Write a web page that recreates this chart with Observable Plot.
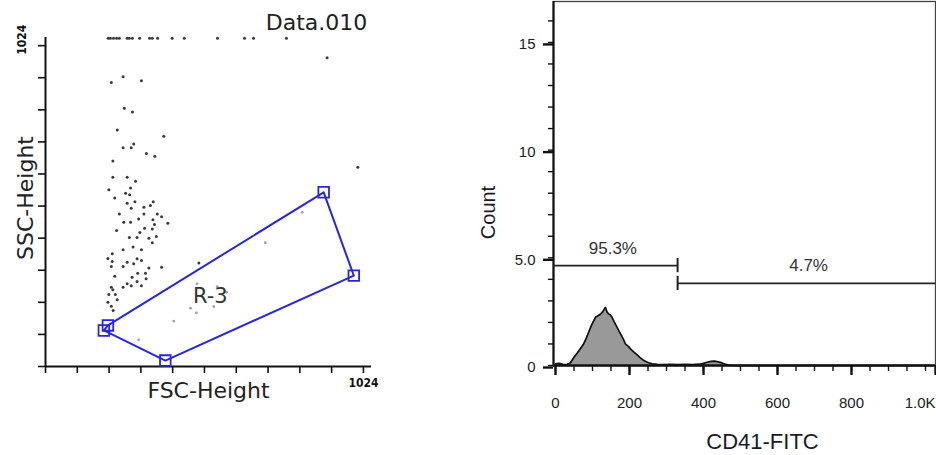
<!DOCTYPE html>
<html><head><meta charset="utf-8">
<script src="https://cdn.jsdelivr.net/npm/d3@7"></script>
<script src="https://cdn.jsdelivr.net/npm/@observablehq/plot@0.6"></script>
<style>
html,body{margin:0;padding:0;background:#fff;}
#wrap{position:relative;width:936px;height:455px;overflow:hidden;background:#fff;}
#left{position:absolute;left:0;top:0;}
#right{position:absolute;left:470px;top:0;}
</style></head><body>
<div id="wrap"><div id="left"></div><div id="right"></div></div>
<script>
// ---------- Left panel: FSC vs SSC dot plot ----------
const plotTitle = "Data.010";
const xTitleLeft = "FSC-Height";
const yTitleLeft = "SSC-Height";
const scatterTicks = [0, 102.4, 204.8, 307.2, 409.6, 512, 614.4, 716.8, 819.2, 921.6, 1024];
const scatterTickLabel = [1024];
// saturated events (top row, off-scale)
const topRowFSC = [202, 209, 219, 229, 238, 263, 270, 280, 303, 335, 344, 361, 408, 447, 554, 641, 670, 776];
const topRowSSC = 1048;
const eventsFSC = [907,212,250,309,254,280,231,381,250,276,284,325,352,217,1006,217,263,290,204,274,258,271,223,263,288,347,338,276,317,238,300,317,360,374,346,274,252,351,394,229,319,304,344,270,295,333,357,344,250,282,309,215,201,215,250,263,284,295,309,333,374,212,223,279,297,322,263,276,295,309,250,324,212,217,225,204,231,201,212,218,494];
const eventsSSC = [985,906,925,912,824,812,755,735,698,698,710,680,671,656,636,604,604,591,564,570,553,548,538,521,526,526,514,505,508,487,471,487,487,478,468,460,460,453,457,434,441,428,439,412,412,409,415,395,373,381,373,360,345,335,319,333,328,344,338,314,317,319,288,285,298,298,264,258,271,258,253,280,253,245,230,230,213,205,192,179,330];
// events inside the R-3 gate (drawn lighter)
const gatedFSC = [488, 467, 486, 542, 583, 553, 708, 827, 413, 300];
const gatedSSC = [264, 186, 171, 191, 237, 255, 395, 492, 145, 85];
// R-3 polygon gate vertices
const gateName = "R-3";
const gateFSC = [201, 896, 993, 386, 188];
const gateSSC = [131, 556, 290, 19, 115];
const gateLabelFSC = 531, gateLabelSSC = 223;

// ---------- Right panel: CD41-FITC histogram ----------
const xTitleRight = "CD41-FITC";
const yTitleRight = "Count";
const histX = [0,10,20,30,40,50,60,70,76,84,92,99,104,108,114,122,128,132,135,139,143,148,153,158,164,171,178,184,189,196,204,212,220,228,239,250,261,275,290,310,330,350,370,390,400,410,420,430,440,450,460,470,480,1020];
const histCount = [0.08,0.1,0.05,0.04,0.12,0.38,0.6,0.85,1.0,1.3,1.65,1.93,2.1,2.24,2.3,2.39,2.5,2.62,2.7,2.5,2.4,2.35,2.24,2.05,1.85,1.62,1.4,1.2,1.0,0.9,0.75,0.62,0.5,0.38,0.23,0.14,0.08,0.05,0.04,0.05,0.04,0.05,0.04,0.06,0.1,0.15,0.19,0.2,0.17,0.12,0.05,0.02,0,0];
const xMajorTicks = [0, 200, 400, 600, 800, 1000];
const xMajorLabels = ["0", "200", "400", "600", "800", "1.0K"];
const xMinorTicks = [0,50,100,150,200,250,300,350,400,450,500,550,600,650,700,750,800,850,900,950,1000];
const yMajorTicks = [0, 5, 10, 15];
const yMajorLabels = ["0", "5.0", "10", "15"];
const yMinorTicks = [0,1,2,3,4,5,6,7,8,9,10,11,12,13,14,15,16];
// marker gates
const markerLabels = ["95.3%", "4.7%"];
const markerStart = [-5.4, 330];
const markerEnd = [330, 1027];
const markerLevel = [4.64, 3.81];
const markerLabelX = [155, 684];
const markerLabelY = [5.45, 4.64];

// ---------- build left ----------
const events = eventsFSC.map((x, i) => ({x, y: eventsSSC[i]}))
  .concat(topRowFSC.map(x => ({x, y: topRowSSC})));
const gated = gatedFSC.map((x, i) => ({x, y: gatedSSC[i]}));
const gateVerts = gateFSC.map((x, i) => ({x, y: gateSSC[i]}));
const gatePath = gateVerts.concat([gateVerts[0]]);
const blue = "#2626e0";

const left = Plot.plot({
  width: 470, height: 455,
  marginLeft: 45, marginRight: 99, marginTop: 37, marginBottom: 89,
  x: {domain: [0, 1050], axis: null},
  y: {domain: [0, 1050], axis: null},
  style: {fontFamily: "DejaVu Sans", background: "white", color: "#222"},
  marks: [
    Plot.axisX({ticks: scatterTicks, tickSize: 7, tickFormat: () => "", label: null, strokeWidth: 1.6, stroke: "#111"}),
    Plot.axisY({ticks: scatterTicks, tickSize: 7, tickFormat: () => "", label: null, strokeWidth: 1.6, stroke: "#111"}),
    Plot.ruleX([0], {stroke: "#111", strokeWidth: 2}),
    Plot.ruleY([0], {stroke: "#111", strokeWidth: 2}),
    Plot.text(scatterTickLabel, {x: d => d, frameAnchor: "bottom", dy: 17, text: d => String(d), fontSize: 12, fontWeight: "bold", fontFamily: "DejaVu Sans Condensed", textAnchor: "middle", lineAnchor: "middle", fill: "#111"}),
    Plot.text(scatterTickLabel, {y: d => d, frameAnchor: "left", dx: -23, dy: -6, rotate: -90, text: d => String(d), fontSize: 12, fontWeight: "bold", fontFamily: "DejaVu Sans Condensed", textAnchor: "middle", lineAnchor: "middle", fill: "#111"}),
    Plot.dot(events, {x: "x", y: "y", r: 1.5, fill: "#3a3a3a", stroke: null}),
    Plot.dot(gated, {x: "x", y: "y", r: 1.4, fill: "#a0a0a0", stroke: null}),
    Plot.line(gatePath, {x: "x", y: "y", stroke: blue, strokeWidth: 2, curve: "linear"}),
    Plot.dot(gateVerts, {x: "x", y: "y", symbol: "square", r: 6, stroke: blue, strokeWidth: 1.8, fill: "none"}),
    Plot.text([gateName], {x: gateLabelFSC, y: gateLabelSSC, text: d => d, fontSize: 21, fill: "#333", textAnchor: "middle", lineAnchor: "middle"}),
    Plot.text([xTitleLeft], {frameAnchor: "bottom", dy: 24, text: d => d, fontSize: 22, fill: "#222", textAnchor: "middle", lineAnchor: "middle"}),
    Plot.text([yTitleLeft], {frameAnchor: "left", dx: -20, dy: -4, rotate: -90, text: d => d, fontSize: 22, fill: "#222", textAnchor: "middle", lineAnchor: "middle"}),
    Plot.text([plotTitle], {frameAnchor: "top", dx: 108, dy: -15, text: d => d, fontSize: 22, fill: "#222", textAnchor: "middle", lineAnchor: "middle"})
  ]
});
document.getElementById("left").appendChild(left);

// ---------- build right ----------
const hist = histX.map((x, i) => ({x, y: histCount[i]}));
const markers = markerLabels.map((label, i) => ({label, x1: markerStart[i], x2: markerEnd[i], y: markerLevel[i], lx: markerLabelX[i], ly: markerLabelY[i], edge: 330}));
const xDom = [-5.4, 1027];
const tickHalf = 0.33;
const fmtX = d => xMajorLabels[xMajorTicks.indexOf(d)];

const right = Plot.plot({
  width: 466, height: 455,
  marginLeft: 83, marginRight: 1, marginTop: 1, marginBottom: 90,
  x: {domain: xDom, axis: null},
  y: {domain: [0, 16.9], axis: null},
  style: {fontFamily: "Liberation Sans, Arial, sans-serif", background: "white", color: "#222"},
  marks: [
    Plot.frame({stroke: "#444", strokeWidth: 1.3}),
    Plot.areaY(hist, {x: "x", y: "y", fill: "#999", curve: "linear"}),
    Plot.lineY(hist, {x: "x", y: "y", stroke: "#111", strokeWidth: 1.7, curve: "linear"}),
    Plot.axisY({ticks: yMinorTicks, tickSize: 5, tickFormat: () => "", label: null, strokeWidth: 1.4, stroke: "#111"}),
    Plot.axisY({ticks: yMajorTicks, tickSize: 10, tickPadding: 8, tickFormat: d => yMajorLabels[yMajorTicks.indexOf(d)], label: null, fontSize: 15, strokeWidth: 2.4, stroke: "#111", fill: "#222", dy: 2}),
    Plot.axisX({ticks: xMinorTicks, tickSize: 6, tickFormat: () => "", label: null, strokeWidth: 1.4, stroke: "#111"}),
    Plot.axisX({ticks: xMajorTicks.slice(0, -1), tickSize: 10, tickPadding: 22, tickFormat: fmtX, label: null, fontSize: 15, strokeWidth: 2.4, stroke: "#111", fill: "#222"}),
    Plot.axisX({ticks: xMajorTicks.slice(-1), tickSize: 10, tickPadding: 22, tickFormat: fmtX, label: null, fontSize: 15, strokeWidth: 2.4, stroke: "#111", fill: "#222", textAnchor: "end", dx: 10}),
    Plot.ruleX([xDom[0]], {stroke: "#111", strokeWidth: 2.2}),
    Plot.ruleY([0], {stroke: "#111", strokeWidth: 2.4}),
    Plot.ruleY(markers, {y: "y", x1: "x1", x2: "x2", stroke: "#222", strokeWidth: 1.8}),
    Plot.ruleX(markers, {x: "edge", y1: d => d.y - tickHalf, y2: d => d.y + tickHalf, stroke: "#222", strokeWidth: 2}),
    Plot.text(markers, {x: "lx", y: "ly", text: "label", fontSize: 17, fill: "#333", textAnchor: "middle", lineAnchor: "middle"}),
    Plot.text([yTitleRight], {frameAnchor: "left", dx: -65, dy: 29, rotate: -90, text: d => d, fontSize: 20, fill: "#1a1a2a", textAnchor: "middle", lineAnchor: "middle"}),
    Plot.text([xTitleRight], {frameAnchor: "bottom", dx: 18, dy: 76, text: d => d, fontSize: 22, fill: "#1a1a2a", textAnchor: "middle", lineAnchor: "middle"})
  ]
});
document.getElementById("right").appendChild(right);
</script>
</body></html>
